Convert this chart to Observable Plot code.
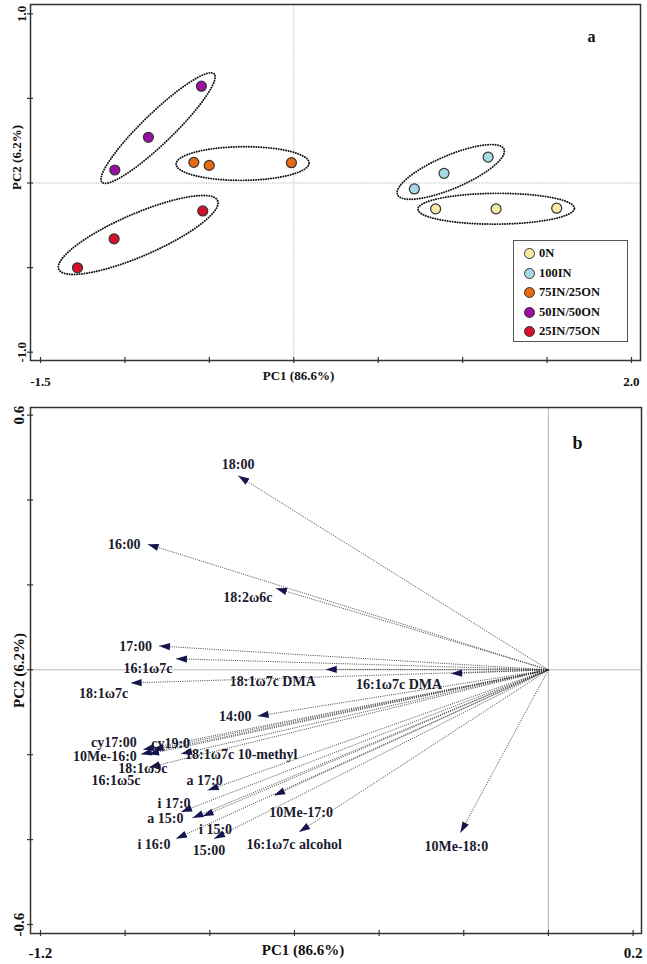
<!DOCTYPE html>
<html><head><meta charset="utf-8">
<script src="https://cdn.jsdelivr.net/npm/d3@7"></script>
<script src="https://cdn.jsdelivr.net/npm/@observablehq/plot@0.6"></script>
<style>
body{margin:0;background:#fff;font-family:"Liberation Serif","Times New Roman",serif;}
#wrap{position:relative;width:647px;height:964px;}
#wrap svg{display:block}
#legend{position:absolute;left:513px;top:240px;width:113px;height:100px;border:1.5px solid #555;background:#fff;font-weight:bold;font-size:12.5px;color:#111}
#legend .row{position:absolute;left:0;height:14px;line-height:14px;white-space:nowrap}
#legend .sw{position:absolute;left:10px;top:2px;width:9px;height:9px;border-radius:50%;border:1.2px solid #333}
#legend .lb{position:absolute;left:25px;top:0}
</style></head><body>
<div id="wrap"></div>
<script>
// ---- Panel a: sample scores ----
const groups = ["0N", "100IN", "75IN/25ON", "50IN/50ON", "25IN/75ON"];
const groupColors = ["#f6eba3", "#a6dae4", "#e66a12", "#9b0ea3", "#d6102b"];
const scoreGroup = ["0N","0N","0N","100IN","100IN","100IN","75IN/25ON","75IN/25ON","75IN/25ON","50IN/50ON","50IN/50ON","50IN/50ON","25IN/75ON","25IN/75ON","25IN/75ON"];
const scorePC1 = [0.84, 1.198, 1.557, 0.714, 0.89, 1.151, -0.592, -0.501, -0.014, -0.547, -0.861, -1.06, -0.539, -1.064, -1.281];
const scorePC2 = [-0.153, -0.153, -0.149, -0.035, 0.057, 0.153, 0.122, 0.104, 0.12, 0.572, 0.27, 0.077, -0.165, -0.33, -0.501];
const xTicksA = [-1.5, -1.0, -0.5, 0, 0.5, 1.0, 1.5, 2.0];
const yTicksA = [-1.0, -0.5, 0, 0.5, 1.0];
const xLabelTicksA = [-1.5, 2.0];
const yLabelTicksA = [-1.0, 1.0];

// ---- Panel b: variable loadings ----
const variables = ["18:00","16:00","18:2ω6c","17:00","16:1ω7c","18:1ω7c DMA","18:1ω7c","16:1ω7c DMA","14:00","cy17:00","cy19:0","10Me-16:0","16:1ω5c","18:1ω7c 10-methyl","18:1ω9c","a 17:0","10Me-17:0","i 17:0","a 15:0","i 15:0","i 16:0","15:00","16:1ω7c alcohol","10Me-18:0"];
const loadPC1 = [-0.733,-0.947,-0.644,-0.920,-0.880,-0.526,-0.987,-0.230,-0.687,-0.958,-0.935,-0.963,-0.946,-0.868,-0.944,-0.805,-0.648,-0.868,-0.841,-0.817,-0.880,-0.790,-0.589,-0.208];
const loadPC2 = [0.457,0.296,0.192,0.056,0.026,0.001,-0.031,-0.009,-0.109,-0.188,-0.188,-0.199,-0.199,-0.198,-0.230,-0.284,-0.296,-0.335,-0.349,-0.345,-0.398,-0.398,-0.382,-0.384];
const xTicksB = [-1.2, -1.0, -0.8, -0.6, -0.4, -0.2, 0, 0.2];
const yTicksB = [-0.6, -0.4, -0.2, 0, 0.2, 0.4, 0.6];
const xLabelTicksB = [-1.2, 0.2];
const yLabelTicksB = [-0.6, 0.6];

// label placement (layout only): [textAnchor, dx, dy]
const labelPlacement = [["middle",0,-11],["end",-7,0],["middle",-28,9],["end",-7,0],["middle",-28,10],["middle",-53,12],["middle",-27,11],["middle",-52,11],["end",-6,0],["middle",-29,-7.5],["middle",18,-6],["end",-4,2.5],["middle",-32,26],["start",4,1],["middle",-6,1],["middle",-3,-10],["middle",27,17],["middle",-7,-8],["middle",-27,1],["middle",13,13],["middle",-22,6],["middle",-5,12],["middle",-5,13],["middle",-4,14]];

const fmt = d => d.toFixed(1);
const wrap = document.getElementById("wrap");

// build tables
const scores = scorePC1.map((x, i) => ({group: scoreGroup[i], pc1: x, pc2: scorePC2[i]}));
const loadings = variables.map((v, i) => ({name: v, pc1: loadPC1[i], pc2: loadPC2[i]}));

// ellipses enclosing each group, derived from the group's points
function ellipseFor(g, padMajor, padMinor) {
  const pts = scores.filter(d => d.group === g).map(d => [d.pc1, d.pc2]);
  const mx = d3.mean(pts, p => p[0]), my = d3.mean(pts, p => p[1]);
  let sxx = 0, syy = 0, sxy = 0;
  for (const [x, y] of pts) { sxx += (x - mx) ** 2; syy += (y - my) ** 2; sxy += (x - mx) * (y - my); }
  const th = 0.5 * Math.atan2(2 * sxy, sxx - syy);
  const u = [Math.cos(th), Math.sin(th)], v = [-Math.sin(th), Math.cos(th)];
  const pu = pts.map(p => (p[0] - mx) * u[0] + (p[1] - my) * u[1]);
  const pv = pts.map(p => (p[0] - mx) * v[0] + (p[1] - my) * v[1]);
  const cu = (d3.max(pu) + d3.min(pu)) / 2, cv = (d3.max(pv) + d3.min(pv)) / 2;
  const a = (d3.max(pu) - d3.min(pu)) / 2 + padMajor;
  const b = (d3.max(pv) - d3.min(pv)) / 2 + padMinor;
  const cx = mx + cu * u[0] + cv * v[0], cy = my + cu * u[1] + cv * v[1];
  return d3.range(0, 145).map(k => {
    const t = k / 144 * 2 * Math.PI;
    return {group: g, x: cx + a * Math.cos(t) * u[0] + b * Math.sin(t) * v[0], y: cy + a * Math.cos(t) * u[1] + b * Math.sin(t) * v[1]};
  });
}
const ellipses = groups.flatMap(g => ellipseFor(g, 0.105, 0.09));

const styleA = {fontFamily: "'Liberation Serif','Times New Roman',serif", fontWeight: "bold", fontSize: "13px", background: "transparent", overflow: "visible", color: "#111"};

const plotA = Plot.plot({
  width: 647, height: 392,
  marginLeft: 30, marginRight: 7, marginTop: 4, marginBottom: 32,
  x: {domain: [-1.5592, 2.0533], label: null},
  y: {domain: [-1.049, 1.055], label: null},
  color: {domain: groups, range: groupColors},
  style: styleA,
  marks: [
    Plot.ruleX([0], {stroke: "#aaa", strokeWidth: 0.8, strokeDasharray: "1.2,1"}),
    Plot.ruleY([0], {stroke: "#aaa", strokeWidth: 0.8, strokeDasharray: "1.2,1"}),
    Plot.line(ellipses, {x: "x", y: "y", z: "group", stroke: "#111", strokeWidth: 1.9, strokeDasharray: "0.1,2.4", strokeLinecap: "round", curve: "linear"}),
    Plot.dot(scores, {x: "pc1", y: "pc2", fill: "group", stroke: "#333", strokeWidth: 1.2, r: 5}),
    Plot.frame({stroke: "#333", strokeWidth: 1.5}),
    Plot.axisX({ticks: xTicksA, tickSize: 6, dy: -3, tickFormat: () => "", stroke: "#333", strokeWidth: 1.2, label: null}),
    Plot.axisY({ticks: yTicksA, tickSize: 6, dx: 3, tickFormat: () => "", stroke: "#333", strokeWidth: 1.2, label: null}),
    Plot.axisX({ticks: xLabelTicksA, tickSize: 0, tickPadding: 16, tickFormat: fmt, label: null, fontSize: 13}),
    Plot.axisY({ticks: yLabelTicksA, tickSize: 0, tickPadding: 9, tickRotate: -90, textAnchor: "middle", lineAnchor: "middle", tickFormat: fmt, label: null, fontSize: 13}),
    Plot.text(["PC1 (86.6%)"], {text: d => d, frameAnchor: "bottom", textAnchor: "middle", lineAnchor: "middle", dx: -37, dy: 15, fontSize: 13}),
    Plot.text(["PC2 (6.2%)"], {text: d => d, frameAnchor: "left", textAnchor: "middle", lineAnchor: "middle", rotate: -90, dx: -14, dy: -25, fontSize: 13}),
    Plot.text(["a"], {text: d => d, frameAnchor: "top-right", textAnchor: "middle", lineAnchor: "middle", dx: -49, dy: 32, fontSize: 16})
  ]
});
wrap.appendChild(plotA);

// legend inside panel a
const legend = document.createElement("div");
legend.id = "legend";
groups.forEach((g, i) => {
  const row = document.createElement("div");
  row.className = "row";
  row.style.top = (5 + i * 19.6) + "px";
  row.innerHTML = `<span class="sw" style="background:${groupColors[i]}"></span><span class="lb">${g}</span>`;
  legend.appendChild(row);
});
wrap.appendChild(legend);

// panel b
const arrowHead = {draw(ctx) { ctx.moveTo(0, 0); ctx.lineTo(-3.6, 11); ctx.lineTo(3.6, 11); ctx.closePath(); }};
const styleB = {fontFamily: "'Liberation Serif','Times New Roman',serif", fontWeight: "bold", fontSize: "14px", background: "transparent", overflow: "visible", color: "#111"};
const labelMarks = loadings.map((d, i) => Plot.text([d], {x: "pc1", y: "pc2", text: "name", textAnchor: labelPlacement[i][0], dx: labelPlacement[i][1], dy: labelPlacement[i][2], fontSize: 14, fill: "#1a1a2e"}));

const plotB = Plot.plot({
  width: 647, height: 572,
  marginLeft: 30, marginRight: 6, marginTop: 15, marginBottom: 31,
  x: {domain: [-1.2236, 0.2199], label: null},
  y: {domain: [-0.6212, 0.6179], label: null},
  style: styleB,
  marks: [
    Plot.ruleX([0], {stroke: "#b5b5b5", strokeWidth: 1}),
    Plot.ruleY([0], {stroke: "#b5b5b5", strokeWidth: 1}),
    Plot.link(loadings, {x1: 0, y1: 0, x2: "pc1", y2: "pc2", stroke: "#333", strokeWidth: 0.9, strokeDasharray: "1,1.2"}),
    Plot.dot(loadings, {x: "pc1", y: "pc2", symbol: arrowHead, rotate: d => Math.atan2(d.pc1, d.pc2) * 180 / Math.PI, fill: "#15154f", stroke: "none", r: 5}),
    ...labelMarks,
    Plot.frame({stroke: "#333", strokeWidth: 1.5}),
    Plot.axisX({ticks: xTicksB, tickSize: 6, dy: -3, tickFormat: () => "", stroke: "#333", strokeWidth: 1.2, label: null}),
    Plot.axisY({ticks: yTicksB, tickSize: 6, dx: 3, tickFormat: () => "", stroke: "#333", strokeWidth: 1.2, label: null}),
    Plot.axisX({ticks: xLabelTicksB, tickSize: 0, tickPadding: 14, tickFormat: fmt, label: null, fontSize: 15}),
    Plot.axisY({ticks: yLabelTicksB, tickSize: 0, tickPadding: 11, tickRotate: -90, textAnchor: "middle", lineAnchor: "middle", tickFormat: fmt, label: null, fontSize: 15}),
    Plot.text(["PC1 (86.6%)"], {text: d => d, frameAnchor: "bottom", textAnchor: "middle", lineAnchor: "middle", dx: -33, dy: 17, fontSize: 15}),
    Plot.text(["PC2 (6.2%)"], {text: d => d, frameAnchor: "left", textAnchor: "middle", lineAnchor: "middle", rotate: -90, dx: -11, dy: 0, fontSize: 15}),
    Plot.text(["b"], {text: d => d, frameAnchor: "top-right", textAnchor: "middle", lineAnchor: "middle", dx: -64, dy: 36, fontSize: 18})
  ]
});
wrap.appendChild(plotB);
</script>
</body></html>
